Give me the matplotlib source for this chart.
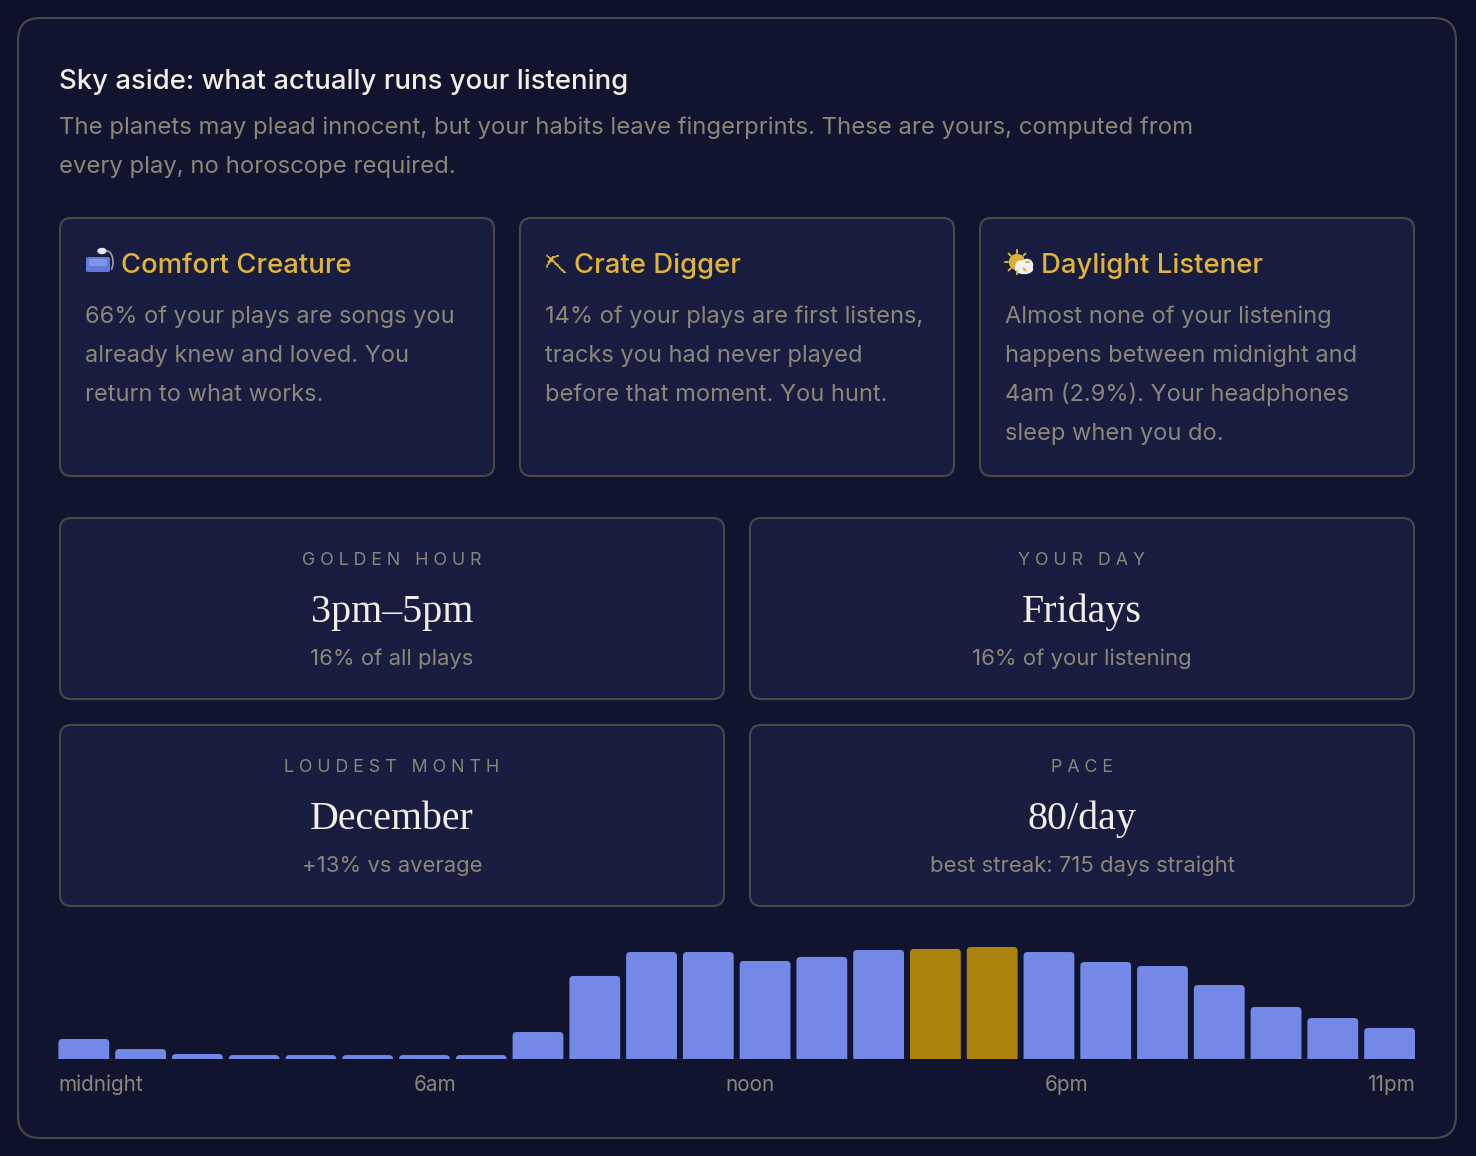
import matplotlib.pyplot as plt
from matplotlib import font_manager, ft2font
from matplotlib.patches import FancyBboxPatch, Circle, Ellipse, Arc
import numpy as np

W, H = 1476, 1156

title = "Sky aside: what actually runs your listening"
subtitle = ["The planets may plead innocent, but your habits leave fingerprints. These are yours, computed from",
            "every play, no horoscope required."]

trait_icons = ["", "\u26cf", ""]
trait_names = ["Comfort Creature", "Crate Digger", "Daylight Listener"]
trait_text = [["66% of your plays are songs you", "already knew and loved. You", "return to what works."],
              ["14% of your plays are first listens,", "tracks you had never played", "before that moment. You hunt."],
              ["Almost none of your listening", "happens between midnight and", "4am (2.9%). Your headphones",
               "sleep when you do."]]

stat_labels = ["GOLDEN HOUR", "YOUR DAY", "LOUDEST MONTH", "PACE"]
stat_values = ["3pm\u20135pm", "Fridays", "December", "80/day"]
stat_notes = ["16% of all plays", "16% of your listening", "+13% vs average", "best streak: 715 days straight"]

# share of plays per hour of day (%)
hours = np.arange(24)
hour_share = [1.41, 0.69, 0.34, 0.26, 0.26, 0.26, 0.26, 0.26, 1.91, 5.92, 7.63, 7.63,
              6.99, 7.28, 7.78, 7.85, 7.99, 7.63, 6.92, 6.63, 5.27, 3.70, 2.91, 2.20]
peak_hours = [15, 16]
hour_ticks = ["midnight", "6am", "noon", "6pm", "11pm"]

BG = '#0c1029'
PANEL = '#10142f'
CARD = '#181c3e'
EDGE = '#4a4844'
TXT = '#f1eee6'
MUTED = '#8a8779'
GOLD = '#e0b43a'
BLUE = '#7488e8'
AMBER = '#ab840f'
SANS = ['Inter', 'DejaVu Sans']
SERIF = 'Liberation Serif'


def font_with(ch):
    for f in font_manager.fontManager.ttflist:
        try:
            if ord(ch) in ft2font.FT2Font(f.fname).get_charmap():
                return f.name
        except Exception:
            pass
    return None


fig = plt.figure(figsize=(W / 100, H / 100), dpi=100)
fig.patch.set_facecolor(BG)
ax = fig.add_axes([0, 0, 1, 1])
ax.set_xlim(0, W)
ax.set_ylim(H, 0)
ax.axis('off')


def box(x0, y0, x1, y1, r, fc, ec=EDGE, lw=1.5):
    ax.add_patch(FancyBboxPatch((x0, y0), x1 - x0, y1 - y0,
                                boxstyle=f"round,pad=0,rounding_size={r}",
                                fc=fc, ec=ec, lw=lw))


box(18, 18, 1456, 1138, 22, PANEL)

ax.text(59, 89, title, fontsize=19.8, family=SANS, weight='medium', color=TXT)
for i, line in enumerate(subtitle):
    ax.text(59, 134 + 39 * i, line, fontsize=17.2, family=SANS, color=MUTED)

# trait cards
card_x = [60, 520, 980]
for i, x0 in enumerate(card_x):
    box(x0, 218, x0 + 434, 476, 11, CARD)
    ax.text(x0 + 61 if i != 1 else x0 + 54, 273, trait_names[i], fontsize=19.8, family=SANS,
            weight='medium', color=GOLD)
    for j, line in enumerate(trait_text[i]):
        ax.text(x0 + 25, 323 + 39 * j, line, fontsize=17.0, family=SANS, color=MUTED)

# icons
# couch + lamp
ax.add_patch(Arc((107, 262), 12, 22, theta1=-90, theta2=60, color='#9aa0b0', lw=1.2))
ax.add_patch(Ellipse((102, 251), 8, 5, color='#e8e8e8'))
ax.add_patch(FancyBboxPatch((86, 257), 24, 15, boxstyle="round,pad=0,rounding_size=2",
                            fc='#6478dc', ec='none'))
ax.add_patch(FancyBboxPatch((89, 259), 18, 7, boxstyle="round,pad=0,rounding_size=1.5",
                            fc='#8094ee', ec='none'))
# pick
pick_font = font_with(trait_icons[1])
if pick_font:
    ax.text(545, 273, trait_icons[1], fontsize=16, family=[pick_font], color=GOLD)
else:
    ax.plot([547, 563], [256, 272], color=GOLD, lw=1.8, solid_capstyle='round')
    ax.plot([547, 547], [256, 265], color=GOLD, lw=1.8, solid_capstyle='round')
    ax.plot([547, 556], [256, 256], color=GOLD, lw=1.8, solid_capstyle='round')
# sun behind cloud
for a in np.linspace(0, 2 * np.pi, 8, endpoint=False):
    ax.plot([1017 + 9 * np.cos(a), 1017 + 12 * np.cos(a)],
            [262 + 9 * np.sin(a), 262 + 12 * np.sin(a)], color='#d9b13a', lw=1.4,
            solid_capstyle='round')
ax.add_patch(Circle((1017, 262), 7.5, color='#d9b13a'))
ax.add_patch(Ellipse((1024, 269), 17, 9, color='#f0f0f0'))
ax.add_patch(Circle((1021, 266), 5, color='#f0f0f0'))
ax.add_patch(Circle((1027, 265), 5.5, color='#f0f0f0'))

# stat cards
stat_box = [(60, 518, 724, 699), (750, 518, 1414, 699), (60, 725, 724, 906), (750, 725, 1414, 906)]
for k, (x0, y0, x1, y1) in enumerate(stat_box):
    box(x0, y0, x1, y1, 11, CARD)
    cx = (x0 + x1) / 2
    ax.text(cx, y0 + 47, ' '.join(stat_labels[k]), fontsize=12.8,
            family=SANS, color=MUTED, ha='center')
    ax.text(cx, y0 + 104, stat_values[k], fontsize=28.8, family=SERIF, color=TXT, ha='center')
    ax.text(cx, y0 + 147, stat_notes[k], fontsize=15.9, family=SANS, color=MUTED, ha='center')

# hour bars
x_left, x_right, base, top = 58.4, 1415, 1058.7, 940
bx = fig.add_axes([x_left / W, (H - base) / H, (x_right - x_left) / W, (base - top) / H])
bw = 0.895
bx.set_xlim(-bw / 2, 23 + bw / 2)
bx.set_ylim(0, 8.49)
bx.axis('off')
px_x = (x_right - x_left) / (23 + bw)
px_y = (base - top) / 8.49
r = 4 / px_x
for h, v in zip(hours, hour_share):
    c = AMBER if h in peak_hours else BLUE
    bx.add_patch(FancyBboxPatch((h - bw / 2, -1), bw, v + 1,
                                boxstyle=f"round,pad=0,rounding_size={r}",
                                mutation_aspect=px_x / px_y, fc=c, ec='none'))

tick_pos = [0.0, 0.278, 0.510, 0.7435, 1.0]
tick_ha = ['left', 'center', 'center', 'center', 'right']
for lab, p, ha in zip(hour_ticks, tick_pos, tick_ha):
    bx.text(p, -0.27, lab, transform=bx.transAxes, fontsize=14.9, family=SANS,
            color=MUTED, ha=ha, va='baseline')

fig.savefig('out.png', dpi=100, facecolor=BG)
